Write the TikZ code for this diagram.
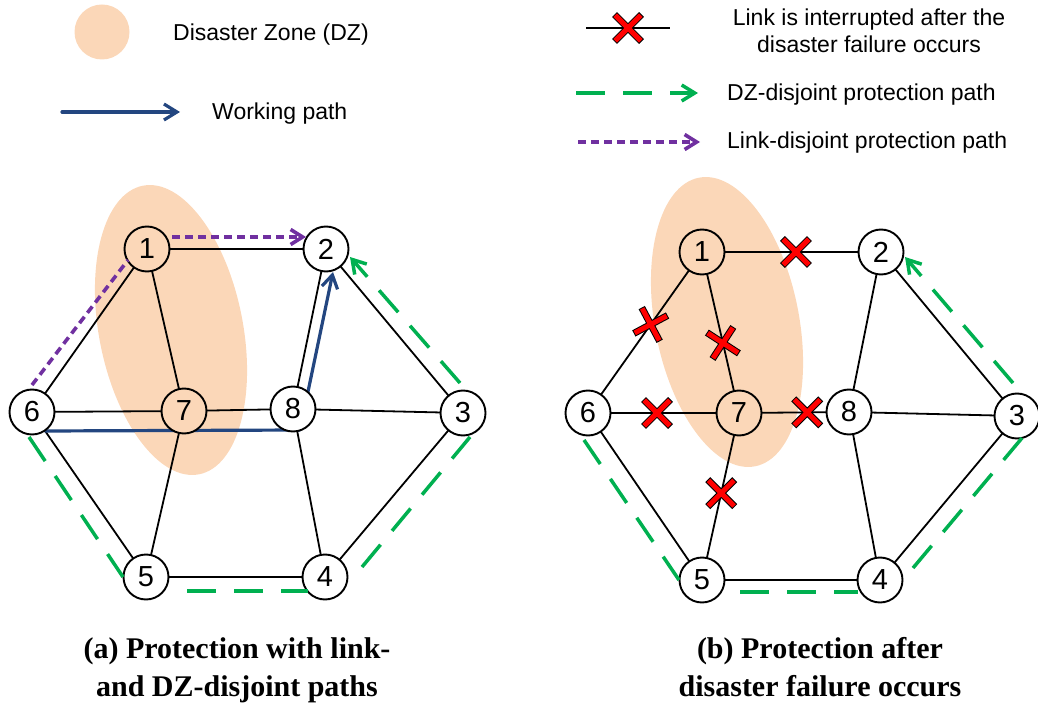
\documentclass[tikz,border=0pt]{standalone}
\usepackage{fontspec}
\setmainfont{Liberation Sans}
\newfontfamily\capfont{Liberation Serif}
\usetikzlibrary{arrows.meta,calc}
\definecolor{dzc}{RGB}{251,215,184}
\definecolor{wpc}{RGB}{35,70,128}
\definecolor{gpc}{RGB}{0,176,80}
\definecolor{ppc}{RGB}{112,48,160}
\definecolor{xred}{RGB}{255,0,0}
\tikzset{
  xmark/.pic={
    \draw[line width=7, black] (-13.5,-13.5)--(13.5,13.5) (-13.5,13.5)--(13.5,-13.5);
    \draw[line width=5, xred] (-12.8,-12.8)--(12.8,12.8) (-12.8,12.8)--(12.8,-12.8);
  }
}
\begin{document}
\begin{tikzpicture}[x=1pt,y=-1pt,
  vtx/.style={circle,draw,line width=1.9,fill=white,minimum size=45,inner sep=0,font=\fontsize{29}{29}\selectfont},
  dzvtx/.style={vtx,fill=dzc},
  link/.style={line width=1.8},
  work/.style={draw=wpc,line width=3.2,line cap=round,line join=round,-{Straight Barb[length=13pt,width=16pt]}},
  dzp/.style={draw=gpc,line width=3.5,dash pattern=on 29pt off 18pt},
  dzparrow/.style={dzp,-{Straight Barb[length=13pt,width=16pt]}},
  ldp/.style={draw=ppc,line width=3.6,dash pattern=on 8pt off 5pt},
  ldparrow/.style={ldp,-{Straight Barb[length=12pt,width=15pt]}},
  lbl/.style={inner sep=0,font=\fontsize{23}{27}\selectfont},
  captxt/.style={inner sep=0,align=center,font=\capfont\bfseries\fontsize{30}{38}\selectfont},
]
\useasboundingbox (0,0) rectangle (1038,708);

% ---------- legend ----------
\node[circle,fill=dzc,minimum size=55,inner sep=0] (lgdz) at (102,32) {};
\node[lbl,anchor=base west] (lgdztxt) at (173,40.5) {Disaster Zone (DZ)};
\coordinate (lgw1) at (62,112); \coordinate (lgw2) at (180,112);
\draw[work] (lgw1) -- (lgw2);
\node[lbl,anchor=base west] (lgwtxt) at (212,120) {Working path};

\coordinate (lgx1) at (586,28); \coordinate (lgx2) at (670,28);
\draw[link] (lgx1) -- (lgx2);
\pic at (628,28) {xmark};
\node[lbl,anchor=base,align=center] (lgxtxt) at (869,53) {Link is interrupted after the\\disaster failure occurs};

\coordinate (lgg1) at (576,93); \coordinate (lgg2) at (698,93);
\draw[dzparrow] (lgg1) -- (lgg2);
\node[lbl,anchor=base west] (lggtxt) at (727,100.5) {DZ-disjoint protection path};

\coordinate (lgp1) at (578,142); \coordinate (lgp2) at (700,142);
\draw[ldparrow] (lgp1) -- (lgp2);
\node[lbl,anchor=base west] (lgptxt) at (727,149) {Link-disjoint protection path};

% ---------- disaster zones ----------
\fill[dzc,rotate around={11:(171,330)}] (171,330) ellipse [x radius=72, y radius=147];
\fill[dzc,rotate around={11:(727,322)}] (727,322) ellipse [x radius=72, y radius=147];

% ---------- graph (a) ----------
\coordinate (a1) at (147,249); \coordinate (a2) at (326,249);
\coordinate (a3) at (463,413); \coordinate (a4) at (325,577);
\coordinate (a5) at (146,577); \coordinate (a6) at (32,412);
\coordinate (a7) at (184,411); \coordinate (a8) at (293,409);
\draw[link] (a1)--(a2) (a1)--(a6) (a1)--(a7) (a2)--(a8) (a2)--(a3)
            (a6)--(a7) (a7)--(a8) (a8)--(a3) (a6)--(a5) (a7)--(a5)
            (a8)--(a4) (a3)--(a4) (a5)--(a4);
% working path 6-7-8-2
\draw[work] ([shift={(13,19)}]a6) -- ([shift={(7,21)}]a8) -- ([shift={(7,23)}]a2);
\node[dzvtx] (na1) at (a1) {1};
\node[vtx]   (na2) at (a2) {2};
\node[vtx]   (na3) at (a3) {3};
\node[vtx]   (na4) at (a4) {4};
\node[vtx]   (na5) at (a5) {5};
\node[vtx]   (na6) at (a6) {6};
\node[dzvtx] (na7) at (a7) {7};
\node[vtx]   (na8) at (a8) {8};
% DZ-disjoint path 6-5-4-3-2
\draw[dzp] ([shift={(-3,25)}]na6.center) -- ([shift={(-23,0)}]na5.center);
\draw[dzp] ([shift={(41,14)}]na5.center) -- ([shift={(-17,14)}]na4.center);
\draw[dzp] ([shift={(37,-10)}]na4.center) -- ([shift={(7,24)}]na3.center);
\draw[dzparrow] ([shift={(-3,-30)}]na3.center) -- ([shift={(24,8)}]na2.center);
% link-disjoint path 6-1-2
\draw[ldp] ([shift={(0,-27)}]na6.center) -- ([shift={(-19,11)}]na1.center);
\draw[ldparrow] ([shift={(25,-12)}]na1.center) -- ([shift={(-20,-12)}]na2.center);

% ---------- graph (b) ----------
\coordinate (b1) at (702,252); \coordinate (b2) at (881,252);
\coordinate (b3) at (1017,416); \coordinate (b4) at (880,580);
\coordinate (b5) at (702,580); \coordinate (b6) at (588,413);
\coordinate (b7) at (739,413); \coordinate (b8) at (849,412);
\draw[link] (b1)--(b2) (b1)--(b6) (b1)--(b7) (b2)--(b8) (b2)--(b3)
            (b6)--(b7) (b7)--(b8) (b8)--(b3) (b6)--(b5) (b7)--(b5)
            (b8)--(b4) (b3)--(b4) (b5)--(b4);
\node[dzvtx] (nb1) at (b1) {1};
\node[vtx]   (nb2) at (b2) {2};
\node[vtx]   (nb3) at (b3) {3};
\node[vtx]   (nb4) at (b4) {4};
\node[vtx]   (nb5) at (b5) {5};
\node[vtx]   (nb6) at (b6) {6};
\node[dzvtx] (nb7) at (b7) {7};
\node[vtx]   (nb8) at (b8) {8};
% interrupted links
\pic at ($(b1)!0.525!(b2)$) {xmark};
\pic[rotate=-17] at ($(b1)!0.45!(b6)$) {xmark};
\pic[rotate=12] at ($(b1)!0.565!(b7)$) {xmark};
\pic at ($(b6)!0.457!(b7)$) {xmark};
\pic at ($(b7)!0.62!(b8)$) {xmark};
\pic at ($(b7)!0.48!(b5)$) {xmark};
% DZ-disjoint path 6-5-4-3-2
\draw[dzp] ([shift={(-4,27)}]nb6.center) -- ([shift={(-23,0)}]nb5.center);
\draw[dzp] ([shift={(38,12)}]nb5.center) -- ([shift={(-22,12)}]nb4.center);
\draw[dzp] ([shift={(33,-12)}]nb4.center) -- ([shift={(5,22)}]nb3.center);
\draw[dzparrow] ([shift={(-4,-33)}]nb3.center) -- ([shift={(24,5)}]nb2.center);

% ---------- captions ----------
\node[captxt,anchor=base] (capa) at (237,696) {(a) Protection with link-\\and DZ-disjoint paths};
\node[captxt,anchor=base] (capb) at (820,696) {(b) Protection after\\disaster failure occurs};
\end{tikzpicture}
\end{document}
